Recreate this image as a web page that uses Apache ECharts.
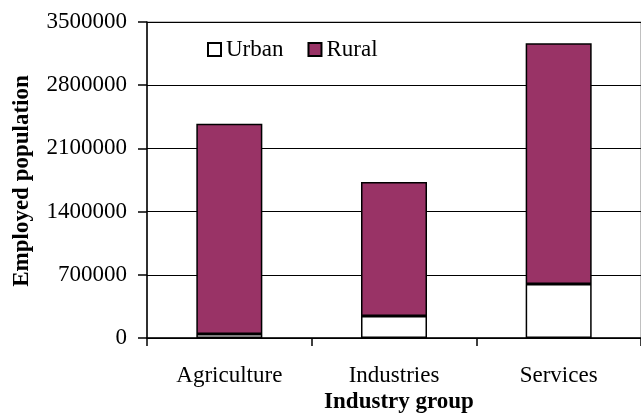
<!DOCTYPE html>
<html>
<head>
<meta charset="utf-8">
<script src="https://cdn.jsdelivr.net/npm/echarts@6/dist/echarts.min.js"></script>
<style>html,body{margin:0;padding:0;background:#fff;}#c{width:641px;height:414px;}</style>
</head>
<body>
<div id="c"></div>
<script>
const categories = ['Agriculture', 'Industries', 'Services'];
const urban = [44000, 244000, 599000];
const rural = [2330000, 1483000, 2666000];
const yTicks = [0, 700000, 1400000, 2100000, 2800000, 3500000];

const FONT = "'Liberation Serif', 'Times New Roman', serif";
const chart = echarts.init(document.getElementById('c'), null, {renderer: 'canvas'});
chart.setOption({
  animation: false,
  backgroundColor: '#ffffff',
  textStyle: {fontFamily: FONT, color: '#000'},
  grid: {left: 147, top: 22, right: -4, bottom: 76, show: true, borderColor: '#808080', borderWidth: 1, backgroundColor: 'transparent'},
  legend: {
    left: 202, top: 33,
    icon: 'rect', itemWidth: 13, itemHeight: 13, itemGap: 24,
    textStyle: {fontFamily: FONT, fontSize: 23, color: '#000'},
    data: ['Urban', 'Rural']
  },
  xAxis: {
    type: 'category', data: categories,
    axisLine: {lineStyle: {color: '#000', width: 1.5}},
    axisTick: {show: true, length: 8, alignWithLabel: false, lineStyle: {color: '#000', width: 1.5}},
    axisLabel: {fontFamily: FONT, fontSize: 23, color: '#000', margin: 26}
  },
  yAxis: {
    type: 'value', min: yTicks[0], max: yTicks[yTicks.length - 1], interval: yTicks[1] - yTicks[0],
    axisLine: {show: true, lineStyle: {color: '#000', width: 1.5}},
    axisTick: {show: true, length: 9, lineStyle: {color: '#000', width: 1.5}},
    axisLabel: {fontFamily: FONT, fontSize: 23, color: '#000', margin: 20, formatter: v => String(v)},
    splitLine: {show: true, lineStyle: {color: '#000', width: 1}}
  },
  graphic: [
    {type: 'text', x: 22.5, y: 181, rotation: Math.PI / 2,
     style: {text: 'Employed population', fontFamily: FONT, fontSize: 23, fontWeight: 'bold', fill: '#000', align: 'center', verticalAlign: 'middle'}},
    {type: 'text', x: 399, y: 402,
     style: {text: 'Industry group', fontFamily: FONT, fontSize: 23, fontWeight: 'bold', fill: '#000', align: 'center', verticalAlign: 'middle'}}
  ],
  series: [
    {name: 'Urban', type: 'bar', stack: 'total', data: urban, barWidth: 66,
     itemStyle: {color: '#ffffff', borderColor: '#000', borderWidth: 1.5}},
    {name: 'Rural', type: 'bar', stack: 'total', data: rural, barWidth: 66,
     itemStyle: {color: '#993366', borderColor: '#000', borderWidth: 1.5}}
  ]
});
</script>
</body>
</html>
